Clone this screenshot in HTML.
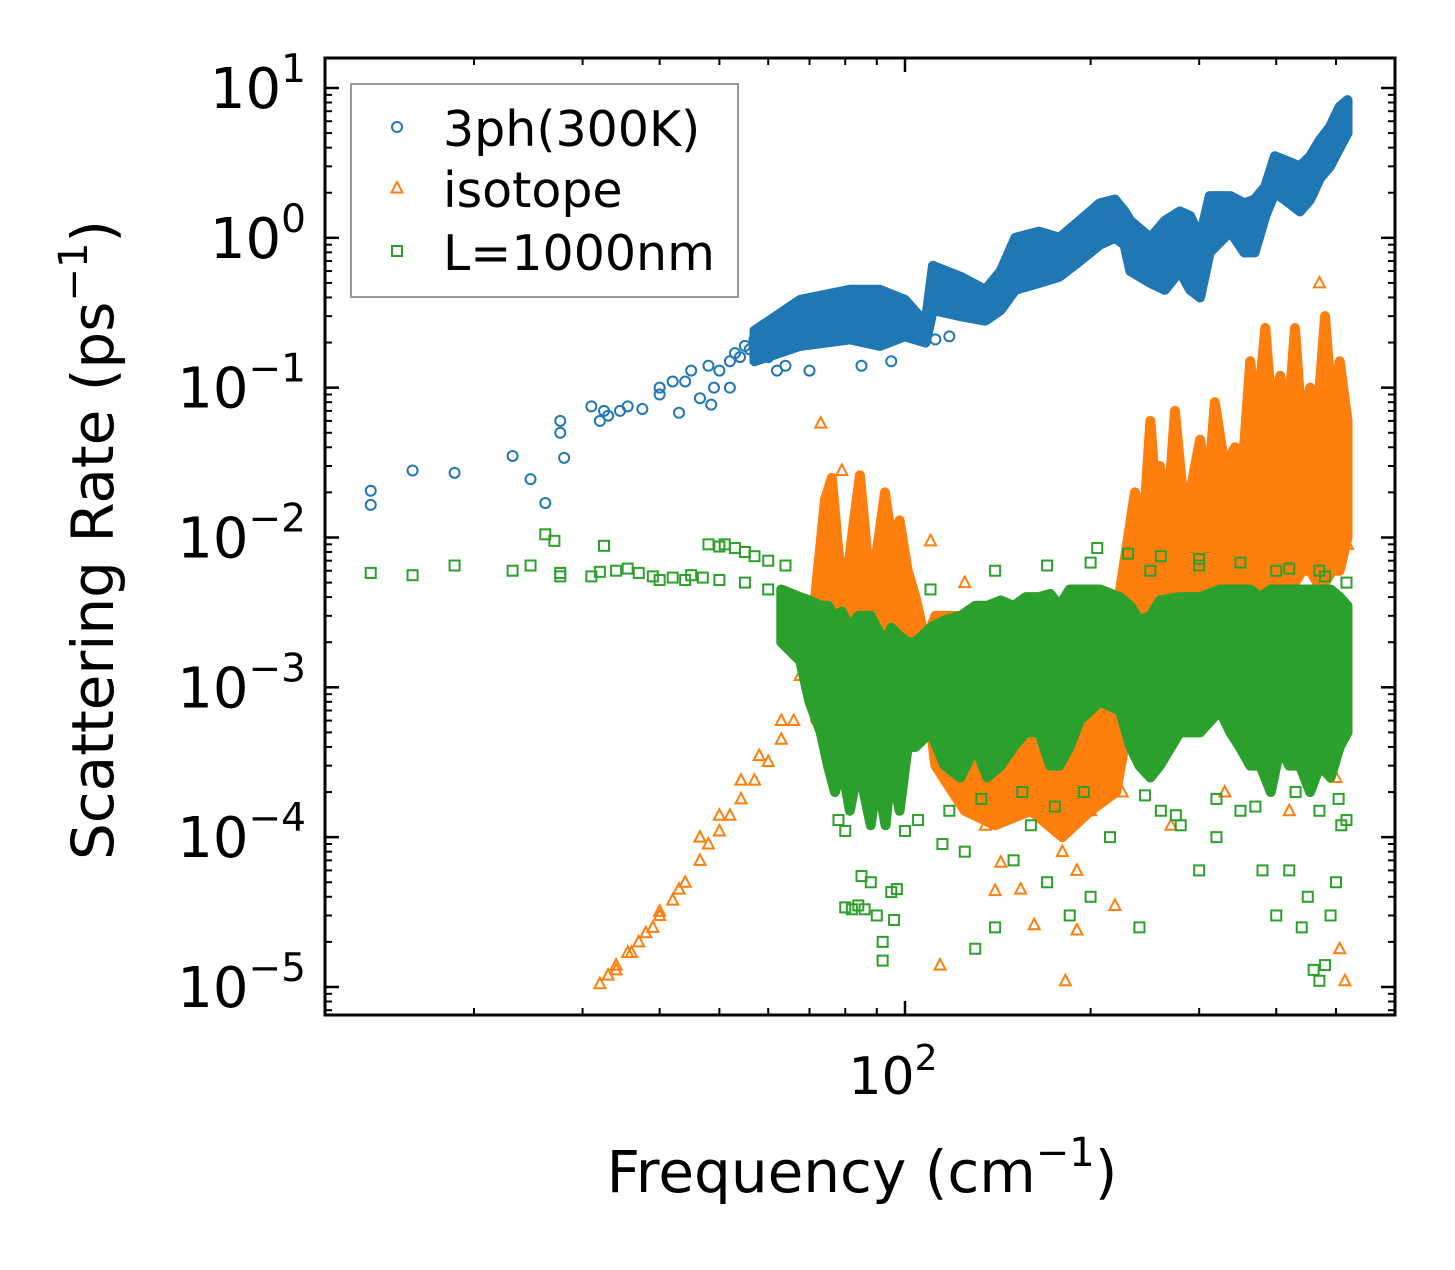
<!DOCTYPE html>
<html><head><meta charset="utf-8"><style>
body{margin:0;background:#fff;}
svg text{font-family:"DejaVu Sans","Liberation Sans",sans-serif;}
</style></head><body>
<svg id="chart" width="1455" height="1265" viewBox="0 0 1455 1265" xmlns="http://www.w3.org/2000/svg">
<rect x="0" y="0" width="1455" height="1265" fill="#fff"/>
<g id="marks"></g>
<g id="axes"></g>
</svg>
<script>
// ---- data ----
const blueFreq=[13.6,13.6,15.9,18.6,23.1,24.7,26.1,27.6,27.6,28,31,32,32.5,33,34.5,35.5,37.5,40,40,42,43,44,45,46.5,48,48.5,49,50,52,52,53,54,55,56,57,60,62,64,66,70,75,85,95,112,118];
const blueVal=[0.0205,0.0165,0.028,0.027,0.035,0.0245,0.017,0.05,0.06,0.034,0.075,0.06,0.07,0.065,0.07,0.075,0.072,0.1,0.09,0.11,0.068,0.11,0.13,0.085,0.14,0.077,0.1,0.13,0.1,0.15,0.17,0.16,0.19,0.18,0.21,0.16,0.13,0.14,0.22,0.13,0.25,0.14,0.15,0.21,0.22];
const blueBandFreq=[57,67.6,81.4,91,100,108,111,123,135,143,151,165,178,192,207,219,227,232,250,264,279,290,301,312,337,355,369,384,398,413,437,454,471,489,507,522];
const blueBandLo=[0.15,0.19,0.21,0.19,0.22,0.2,0.33,0.3,0.28,0.33,0.45,0.5,0.55,0.7,0.9,1.0,0.9,0.6,0.5,0.45,0.6,0.45,0.4,0.8,1.1,0.8,0.8,1.4,2.0,1.8,1.5,1.8,2.5,3.0,4.0,5.0];
const blueBandHi=[0.24,0.385,0.45,0.45,0.385,0.27,0.65,0.55,0.45,0.6,1.0,1.1,1.0,1.3,1.7,1.8,1.5,1.3,1.0,1.3,1.5,1.4,1.0,1.9,1.9,1.7,1.8,2.2,3.5,3.3,3.0,3.5,4.5,5.5,7.5,8.3];

const orangeFreq=[32,33,34,35.5,37,39,40,42,44,46.5,48,50,52,54.2,57,60,63,66,70,34,36,38,40,43,46.5,50,54.2,58,63,67.6,73,79,110,470,114,162,182,190,219,140,154,143,507,517,522,517,421,460,125,125,135,150,165,180,190,200,210,225,270,330,420,480,500];
const orangeVal=[1.05e-5,1.2e-5,1.4e-5,1.7e-5,2e-5,2.5e-5,3e-5,3.8e-5,5e-5,7e-5,9e-5,1.1e-4,1.4e-4,1.8e-4,2.4e-4,3.2e-4,4.5e-4,6e-4,1e-3,1.3e-5,1.7e-5,2.3e-5,3.2e-5,4.5e-5,1e-4,1.4e-4,2.4e-4,3.5e-4,6e-4,1.2e-3,0.058,0.028,0.0095,0.5,1.4e-5,2.6e-5,1.1e-5,2.4e-5,3.5e-5,4.4e-5,4.5e-5,6.8e-5,1.8e-5,1.1e-5,0.009,0.014,0.018,0.024,0.005,2e-4,1.2e-4,3e-4,1.5e-4,8e-5,6e-5,1.5e-4,3e-4,2e-4,1.2e-4,2e-4,1.5e-4,3e-4,2.5e-4];
const orangeBandFreq=[71.5,74.2,76.1,78,80,82,84.5,86,88,90,92.8,95,98,101,104,108,112,125,140,160,180,200,220,236,243,250,255,259,266,274,282,290,301,310,318,330,343,353,363,372,384,395,406,418,429,441,454,466,480,493,507,522];
const orangeBandLo=[6e-4,8e-4,1e-3,1e-3,1e-3,1e-3,1e-3,1e-3,1e-3,1e-3,1e-3,1e-3,1e-3,1e-3,1e-3,1e-3,3e-4,1.5e-4,1.2e-4,1.5e-4,1e-4,1.5e-4,2e-4,1e-3,1e-3,1e-3,1e-3,1e-3,1e-3,1e-3,1.5e-3,2e-3,2e-3,2e-3,2e-3,3e-3,3e-3,3e-3,3e-3,4e-3,4e-3,5e-3,5e-3,5e-3,5e-3,6e-3,6e-3,5e-3,5e-3,6e-3,6e-3,0.01];
const orangeBandHi=[0.004,0.018,0.025,0.008,0.004,0.01,0.026,0.012,0.004,0.008,0.02,0.01,0.013,0.006,0.004,0.002,0.003,0.003,0.003,0.003,0.002,0.003,0.003,0.02,0.01,0.06,0.02,0.03,0.012,0.07,0.02,0.02,0.045,0.02,0.08,0.03,0.04,0.03,0.15,0.06,0.25,0.06,0.12,0.06,0.25,0.05,0.1,0.06,0.3,0.07,0.15,0.06];

const greenFreq=[13.6,15.9,18.6,23.1,24.7,26.1,27,27.6,27.6,31,32,32.5,34,35.5,37,39,40,42,44,45,47,48,50,51,53,55,57,60,64,50,55,60,65,68,70,70,72,74,75,72,72,77,78,80,80,82,84,85,88,86,90,92,92,95,96,97,105,115,125,130,140,150,160,170,185,200,215,240,260,280,300,320,350,380,400,420,440,450,460,470,480,490,500,510,520,205,230,260,300,350,420,470,110,140,170,200,250,300,400,480,520,100,118,133,155,175,195,245,275,320,370,430,470,505];
const greenVal=[0.0058,0.0056,0.0065,0.006,0.0065,0.0105,0.0095,0.0055,0.0058,0.0055,0.0059,0.0088,0.006,0.0062,0.0058,0.0055,0.0052,0.0054,0.0052,0.0056,0.0054,0.009,0.0087,0.009,0.0085,0.008,0.0075,0.007,0.0065,0.0052,0.005,0.0045,0.004,0.0032,0.0016,0.0015,0.0025,0.0018,0.0009,0.0008,0.0033,0.0004,0.00013,0.00011,3.4e-5,3.3e-5,3.5e-5,5.5e-5,5e-5,3.3e-5,3e-5,2e-5,1.5e-5,4.3e-5,2.8e-5,4.5e-5,1.3e-4,9e-5,8e-5,1.8e-5,2.5e-5,7e-5,1.2e-4,5e-5,3e-5,4e-5,1e-4,2.5e-5,1.5e-4,1.2e-4,6e-5,1e-4,1.5e-4,6e-5,3e-5,6e-5,2.5e-5,4e-5,1.3e-5,1.1e-5,1.4e-5,3e-5,5e-5,1.2e-4,1.3e-4,0.0085,0.0078,0.0075,0.0072,0.0068,0.0062,0.006,0.0045,0.006,0.0065,0.0068,0.006,0.0065,0.006,0.0055,0.005,1.1e-4,1.5e-4,1.8e-4,2e-4,1.6e-4,2e-4,1.9e-4,1.4e-4,1.8e-4,1.6e-4,2e-4,1.5e-4,1.8e-4];
const greenBandFreq=[63,67.6,70,73,75,77,79,81.4,84,88,90,93,95,98,101,104,110,116,123,130,136,143,150,157,165,172,178,185,192,207,223,232,240,250,259,279,301,324,337,349,363,377,392,406,420,437,454,471,490,507,522];
const greenBandLo=[2e-3,1.5e-3,8e-4,5e-4,3e-4,2e-4,3e-4,1.5e-4,3e-4,1.2e-4,2.5e-4,1.2e-4,3e-4,1.5e-4,4e-4,4e-4,5e-4,3e-4,2.5e-4,4e-4,2.5e-4,3e-4,4e-4,5e-4,5e-4,3e-4,3e-4,4e-4,6e-4,8e-4,7e-4,4e-4,3e-4,2.5e-4,3e-4,5e-4,5e-4,7e-4,5e-4,4e-4,3e-4,3e-4,2e-4,4e-4,3e-4,3e-4,2e-4,3e-4,2.5e-4,4e-4,5e-4];
const greenBandHi=[4.5e-3,4e-3,3.8e-3,3.5e-3,3.5e-3,3e-3,3.2e-3,2.5e-3,3e-3,3e-3,2.5e-3,2e-3,2.5e-3,2.2e-3,2e-3,2e-3,2.5e-3,2.8e-3,3e-3,3.5e-3,3.5e-3,3.8e-3,3.5e-3,4e-3,4e-3,4.2e-3,3.5e-3,4.5e-3,4.5e-3,4.5e-3,4e-3,3.5e-3,2.8e-3,3e-3,3.8e-3,4e-3,4e-3,4.5e-3,4.5e-3,4.5e-3,4.5e-3,4e-3,4.5e-3,4.5e-3,4.5e-3,4.5e-3,4.5e-3,4.5e-3,4.5e-3,4e-3,3.5e-3];

const yTickVals=[1e1,1e0,1e-1,1e-2,1e-3,1e-4,1e-5];
const yTickExp=["1","0","\u22121","\u22122","\u22123","\u22124","\u22125"];
const xMinorVals=[20,30,40,50,60,70,80,90,200,300,400,500];

// ---- axis functions ----
const L=325,R=1395,T=58,B=1015;
function xs(f){return 905+616.6*Math.log10(f/100);}
function ys(v){return 88+(1-Math.log10(v))*149.83;}
const NS="http://www.w3.org/2000/svg";
const marks=document.getElementById('marks');
const axes=document.getElementById('axes');
function mk(tag,attrs,parent){const e=document.createElementNS(NS,tag);for(const k in attrs)e.setAttribute(k,attrs[k]);parent.appendChild(e);return e;}

const C={b:'#1f77b4',o:'#ff7f0e',g:'#2ca02c'};
function band(fr,lo,hi,col,name){
  let pts=[];
  for(let i=0;i<fr.length;i++)pts.push(xs(fr[i])+','+ys(hi[i]));
  for(let i=fr.length-1;i>=0;i--)pts.push(xs(fr[i])+','+ys(lo[i]));
  const p=mk('polygon',{points:pts.join(' '),fill:col,stroke:col,'stroke-width':10,'stroke-linejoin':'round'},marks);
  
  
}
function circ(fr,va,name){
  for(let i=0;i<fr.length;i++){
    const c=mk('circle',{cx:xs(fr[i]),cy:ys(va[i]),r:5,fill:'none',stroke:C.b,'stroke-width':2},marks);
    
    
  }
}
function tri(fr,va,name){
  for(let i=0;i<fr.length;i++){
    const x=xs(fr[i]),y=ys(va[i]);
    const t=mk('polygon',{points:`${x},${y-6} ${x-5.5},${y+4.5} ${x+5.5},${y+4.5}`,fill:'none',stroke:C.o,'stroke-width':2},marks);
    
    
  }
}
function sq(fr,va,name){
  for(let i=0;i<fr.length;i++){
    const s=mk('rect',{x:xs(fr[i])-5,y:ys(va[i])-5,width:10,height:10,fill:'none',stroke:C.g,'stroke-width':2},marks);
    
    
  }
}
band(blueBandFreq,blueBandLo,blueBandHi,C.b,'3ph-dense-band');
circ(blueFreq,blueVal,'3ph-point');
band(orangeBandFreq,orangeBandLo,orangeBandHi,C.o,'isotope-dense-band');
tri(orangeFreq,orangeVal,'isotope-point');
band(greenBandFreq,greenBandLo,greenBandHi,C.g,'boundary-dense-band');
sq(greenFreq,greenVal,'boundary-point');

// frame
const fr=mk('rect',{x:L,y:T,width:R-L,height:B-T,fill:'none',stroke:'#000','stroke-width':3},axes);


// y ticks
for(let d=0;d<yTickVals.length;d++){
  const y=ys(yTickVals[d]);
  const tl=mk('line',{x1:L,y1:y,x2:L+14,y2:y,stroke:'#000','stroke-width':2.5},axes);
  
  
  mk('line',{x1:R,y1:y,x2:R-14,y2:y,stroke:'#000','stroke-width':2.5},axes);
  const tx=mk('text',{x:306,y:y+20,'font-size':56,'text-anchor':'end',fill:'#000'},axes);
  
  
  tx.innerHTML='10<tspan dy="-26" font-size="39">'+yTickExp[d]+'</tspan>';
}
for(let e=-6;e<=1;e++){
  for(let m=2;m<=9;m++){
    const v=m*Math.pow(10,e);
    const y=ys(v); if(y<T||y>B)continue;
    mk('line',{x1:L,y1:y,x2:L+7,y2:y,stroke:'#000','stroke-width':2},axes);
    mk('line',{x1:R,y1:y,x2:R-7,y2:y,stroke:'#000','stroke-width':2},axes);
  }
}
// x ticks
{const x=xs(100);
 mk('line',{x1:x,y1:B,x2:x,y2:B-14,stroke:'#000','stroke-width':2.5},axes);
 mk('line',{x1:x,y1:T,x2:x,y2:T+14,stroke:'#000','stroke-width':2.5},axes);
 const tx=mk('text',{x:x-12,y:1094,'font-size':52,'text-anchor':'middle',fill:'#000'},axes);
 
 
 tx.innerHTML='10<tspan dy="-24" font-size="36">2</tspan>';}
for(const f of xMinorVals){const x=xs(f);
 mk('line',{x1:x,y1:B,x2:x,y2:B-7,stroke:'#000','stroke-width':2},axes);
 mk('line',{x1:x,y1:T,x2:x,y2:T+7,stroke:'#000','stroke-width':2},axes);}
// axis titles
const xt=mk('text',{x:862,y:1192,'font-size':58,'text-anchor':'middle',fill:'#000'},axes);


xt.innerHTML='Frequency (cm<tspan dy="-26" font-size="40">\u22121</tspan><tspan dy="26">)</tspan>';
const yt=mk('text',{x:0,y:0,'font-size':58,'text-anchor':'middle',fill:'#000',transform:'translate(113,540) rotate(-90)'},axes);


yt.innerHTML='Scattering Rate (ps<tspan dy="-26" font-size="40">\u22121</tspan><tspan dy="26">)</tspan>';
// legend
const lg=mk('rect',{x:351,y:84,width:387,height:213,fill:'#fff','fill-opacity':0.8,stroke:'#999','stroke-width':2},axes);


const labels=['3ph(300K)','isotope','L=1000nm'];
const ly=[129,190,253];
mk('circle',{cx:397,cy:ly[0]-2,r:5,fill:'none',stroke:C.b,'stroke-width':2},axes);
mk('polygon',{points:`397,${ly[1]-8} 391.5,${ly[1]+2.5} 402.5,${ly[1]+2.5}`,fill:'none',stroke:C.o,'stroke-width':2},axes);
mk('rect',{x:392,y:ly[2]-7,width:10,height:10,fill:'none',stroke:C.g,'stroke-width':2},axes);
for(let i=0;i<3;i++){
  const t=mk('text',{x:443,y:ly[i]+17,'font-size':49,fill:'#000'},axes);
  
  
  t.textContent=labels[i];
}
</script>
</body></html>
